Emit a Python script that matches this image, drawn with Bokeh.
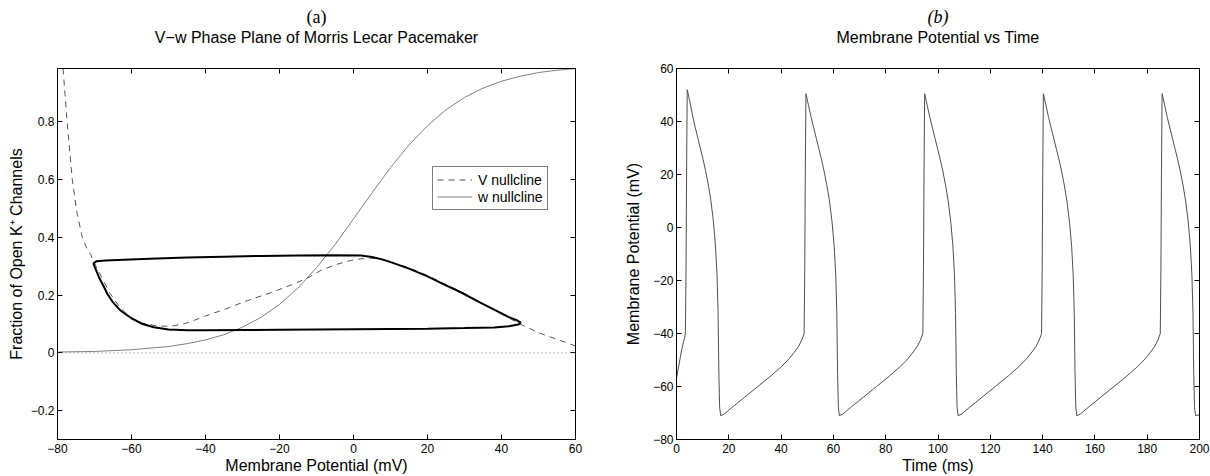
from bokeh.plotting import figure
from bokeh.models import FixedTicker, LinearAxis, Title, Range1d, Span
from bokeh.layouts import row
from bokeh.embed import file_html
from bokeh.resources import INLINE

FONT = "Liberation Sans"
SERIF = "Liberation Serif"

# ---------------- panel (a): V-w phase plane ----------------
phase_x_range = (-80, 60)
phase_y_range = (-0.3, 0.985)
phase_xticks = [-80, -60, -40, -20, 0, 20, 40, 60]
phase_xlabels = ["\u221280", "\u221260", "\u221240", "\u221220", "0", "20", "40", "60"]
phase_yticks = [-0.2, 0, 0.2, 0.4, 0.6, 0.8]
phase_ylabels = ["\u22120.2", "0", "0.2", "0.4", "0.6", "0.8"]
zero_level = 0

v_nullcline_V = [-78.5, -77.4, -76.0, -74.8, -73.3, -72.0, -71.0, -70.0, -69.0, -68.0,
                 -66.0, -63.0, -60.0, -57.0, -53.0, -49.5, -46.0, -43.0, -40.0, -35.0,
                 -28.7, -22.0, -16.1, -12.0, -8.9, -5.0, -0.8, 2.0, 4.6, 7.0,
                 10.0, 15.0, 20.0, 25.0, 30.0, 35.0, 40.0, 45.0, 50.0, 55.0, 60.0]
v_nullcline_w = [0.985, 0.80, 0.60, 0.49, 0.40, 0.36, 0.34, 0.31, 0.285, 0.26,
                 0.21, 0.155, 0.12, 0.103, 0.093, 0.092, 0.10, 0.113, 0.128, 0.15,
                 0.181, 0.21, 0.239, 0.262, 0.285, 0.305, 0.32, 0.326, 0.328, 0.325,
                 0.315, 0.295, 0.268, 0.237, 0.205, 0.17, 0.135, 0.10, 0.07, 0.047, 0.024]

w_nullcline_V = [-80, -70, -60, -50, -45, -40, -35, -30, -25, -20, -15, -10, -5, 0,
                 5, 10, 15, 20, 25, 30, 35, 40, 45, 50, 55, 60]
w_nullcline_w = [0.003, 0.005, 0.011, 0.022, 0.032, 0.045, 0.063, 0.089, 0.123, 0.168,
                 0.225, 0.295, 0.375, 0.464, 0.554, 0.642, 0.72, 0.787, 0.842, 0.885,
                 0.917, 0.941, 0.958, 0.971, 0.979, 0.985]

cycle_V = [-50, -45, -40, -30, -20, -10, 0, 10, 20, 30, 38, 42, 44.5, 45.2, 44.3, 42,
           38, 34, 29, 24, 20, 15, 11, 8, 5, 2, -5, -15, -25, -35, -45, -55, -62, -67,
           -69.5, -70.3, -70, -68.8, -67.5, -66.5, -65, -63, -60, -57, -54, -50]
cycle_w = [0.081, 0.078, 0.078, 0.079, 0.08, 0.081, 0.082, 0.083, 0.084, 0.086, 0.088,
           0.092, 0.098, 0.105, 0.112, 0.124, 0.15, 0.176, 0.21, 0.24, 0.265, 0.292,
           0.31, 0.323, 0.332, 0.337, 0.338, 0.337, 0.336, 0.333, 0.33, 0.326, 0.323,
           0.32, 0.317, 0.31, 0.3, 0.262, 0.23, 0.204, 0.175, 0.147, 0.12, 0.1, 0.089, 0.081]

# ---------------- panel (b): membrane potential vs time ----------------
time_x_range = (0, 200)
time_y_range = (-80, 60)
time_xticks = [0, 20, 40, 60, 80, 100, 120, 140, 160, 180, 200]
time_xlabels = [str(t) for t in time_xticks]
time_yticks = [-80, -60, -40, -20, 0, 20, 40, 60]
time_ylabels = ["\u221280", "\u221260", "\u221240", "\u221220", "0", "20", "40", "60"]

time_ms = [
    0, 1, 2, 3, 3.4, 3.65, 3.85, 4.1,
    5.1, 6.1, 7.1, 8.1, 9.1, 10.1, 11.1, 12.1, 13.1, 14.1, 14.9, 15.5, 15.9, 16.2, 16.5, 16.9,
    18.1, 21.1, 26.1, 31.1, 36.1, 40.1, 43.1, 45.1, 46.6, 47.9,
    48.8, 49.05, 49.25, 49.5,
    50.5, 51.5, 52.5, 53.5, 54.5, 55.5, 56.5, 57.5, 58.5, 59.5, 60.3, 60.9, 61.3, 61.6, 61.9, 62.3,
    63.5, 66.5, 71.5, 76.5, 81.5, 85.5, 88.5, 90.5, 92.0, 93.3,
    94.2, 94.45, 94.65, 94.9,
    95.9, 96.9, 97.9, 98.9, 99.9, 100.9, 101.9, 102.9, 103.9, 104.9, 105.7, 106.3, 106.7, 107.0, 107.3, 107.7,
    108.9, 111.9, 116.9, 121.9, 126.9, 130.9, 133.9, 135.9, 137.4, 138.7,
    139.6, 139.85, 140.05, 140.3,
    141.3, 142.3, 143.3, 144.3, 145.3, 146.3, 147.3, 148.3, 149.3, 150.3, 151.1, 151.7, 152.1, 152.4, 152.7, 153.1,
    154.3, 157.3, 162.3, 167.3, 172.3, 176.3, 179.3, 181.3, 182.8, 184.1,
    185.0, 185.25, 185.45, 185.7,
    186.7, 187.7, 188.7, 189.7, 190.7, 191.7, 192.7, 193.7, 194.7, 195.7, 196.5, 197.1, 197.5, 197.8, 198.1, 198.5,
    200.0,
]
vm_mV = [
    -57, -51.5, -46, -42, -40, -15, 20, 52,
    47.5, 42.5, 38, 34, 30, 26, 21.5, 16.5, 10.5, 2.5, -7, -18, -32, -55, -68, -71,
    -70.5, -68, -64, -60, -56, -52.5, -49.5, -47, -45, -42.5,
    -40, -15, 20, 50.5,
    46, 41.5, 37.5, 33.5, 29.5, 25.5, 21, 16, 10, 2, -7, -18, -32, -55, -68, -71,
    -70.5, -68, -64, -60, -56, -52.5, -49.5, -47, -45, -42.5,
    -40, -15, 20, 50.5,
    46, 41.5, 37.5, 33.5, 29.5, 25.5, 21, 16, 10, 2, -7, -18, -32, -55, -68, -71,
    -70.5, -68, -64, -60, -56, -52.5, -49.5, -47, -45, -42.5,
    -40, -15, 20, 50.5,
    46, 41.5, 37.5, 33.5, 29.5, 25.5, 21, 16, 10, 2, -7, -18, -32, -55, -68, -71,
    -70.5, -68, -64, -60, -56, -52.5, -49.5, -47, -45, -42.5,
    -40, -15, 20, 50.5,
    46, 41.5, 37.5, 33.5, 29.5, 25.5, 21, 16, 10, 2, -7, -18, -32, -55, -68, -71,
    -70.6,
]


def style_axis(ax, ticks, labels, show_labels=True, label_standoff=2, title_standoff=2):
    ax.ticker = FixedTicker(ticks=ticks)
    ax.major_label_overrides = {t: (l if show_labels else "") for t, l in zip(ticks, labels)}
    ax.major_tick_in = 5
    ax.major_tick_out = 0
    ax.minor_tick_in = 0
    ax.minor_tick_out = 0
    ax.axis_line_color = "black"
    ax.axis_line_width = 1
    ax.major_tick_line_color = "black"
    ax.major_label_text_font = FONT
    ax.major_label_text_font_size = "12px" if show_labels else "0px"
    ax.major_label_text_color = "black"
    ax.major_label_standoff = label_standoff
    ax.axis_label_text_font = FONT
    ax.axis_label_text_font_size = "16px"
    ax.axis_label_text_font_style = "normal"
    ax.axis_label_text_color = "black"
    ax.axis_label_standoff = title_standoff


def make_fig(xr, yr, width, bl, br):
    p = figure(width=width, height=476, x_range=Range1d(*xr), y_range=Range1d(*yr),
               output_backend="svg", toolbar_location=None, title=None,
               min_border_left=bl, min_border_right=br,
               min_border_top=68, min_border_bottom=37)
    p.grid.visible = False
    p.outline_line_color = "black"
    p.outline_line_width = 1
    p.background_fill_color = "white"
    p.border_fill_color = "white"
    return p


def add_frame_axes(p, xticks, xlabels, yticks, ylabels, title, tag, tag_style):
    top = LinearAxis()
    style_axis(top, xticks, xlabels, show_labels=False, label_standoff=0)
    p.add_layout(top, "above")
    rgt = LinearAxis()
    style_axis(rgt, yticks, ylabels, show_labels=False, label_standoff=0)
    p.add_layout(rgt, "right")
    # blank spacer keeps the title clear of the frame, as in the reference
    p.add_layout(Title(text="\u00a0", align="center", vertical_align="bottom", text_font=FONT,
                       text_font_size="1px", text_color="white", standoff=20), "above")
    p.add_layout(Title(text=title, align="center", vertical_align="bottom", text_font=FONT,
                       text_font_size="16px", text_font_style="normal", text_color="black",
                       standoff=0), "above")
    p.add_layout(Title(text=tag, align="center", vertical_align="bottom", text_font=SERIF,
                       text_font_size="18px", text_font_style=tag_style, text_color="black",
                       standoff=0), "above")


# ---- figure (a)
p1 = make_fig(phase_x_range, phase_y_range, 605, 57, 30)
style_axis(p1.xaxis[0], phase_xticks, phase_xlabels, label_standoff=4, title_standoff=1)
style_axis(p1.yaxis[0], phase_yticks, phase_ylabels, label_standoff=3, title_standoff=3)
p1.xaxis[0].axis_label = "Membrane Potential (mV)"
p1.yaxis[0].axis_label = "Fraction of Open K\u207a Channels"
add_frame_axes(p1, phase_xticks, phase_xlabels, phase_yticks, phase_ylabels,
               "V\u2212w Phase Plane of Morris Lecar Pacemaker", "(a)", "normal")

p1.add_layout(Span(location=zero_level, dimension="width", line_color="#777777",
                   line_dash="1 3", line_width=1))
p1.line(v_nullcline_V, v_nullcline_w, line_color="#555555", line_width=1,
        line_dash="6 5", legend_label="V nullcline")
p1.line(w_nullcline_V, w_nullcline_w, line_color="#808080", line_width=1,
        legend_label="w nullcline")
p1.line(cycle_V, cycle_w, line_color="black", line_width=2)

lg = p1.legend[0]
lg.location = (375, 229)
lg.border_line_color = "black"
lg.border_line_width = 1
lg.background_fill_color = "white"
lg.background_fill_alpha = 1
lg.label_text_font = FONT
lg.label_text_font_size = "14px"
lg.label_text_color = "black"
lg.padding = 4
lg.spacing = 0
lg.margin = 0
lg.glyph_width = 35
lg.glyph_height = 17
lg.label_height = 17
lg.label_standoff = 6

# ---- figure (b)
p2 = make_fig(time_x_range, time_y_range, 605, 71, 11)
style_axis(p2.xaxis[0], time_xticks, time_xlabels, label_standoff=4, title_standoff=1)
style_axis(p2.yaxis[0], time_yticks, time_ylabels, label_standoff=3, title_standoff=8)
p2.xaxis[0].axis_label = "Time (ms)"
p2.yaxis[0].axis_label = "Membrane Potential (mV)"
add_frame_axes(p2, time_xticks, time_xlabels, time_yticks, time_ylabels,
               "Membrane Potential vs Time", "(b)", "italic")
p2.line(time_ms, vm_mV, line_color="#505050", line_width=1)

layout = row(p1, p2)
open("out.html", "w").write(file_html(layout, INLINE))
